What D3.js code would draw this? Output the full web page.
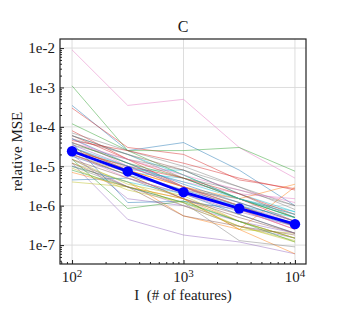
<!DOCTYPE html>
<meta charset="utf-8">
<style>
body { margin: 0; background: #fff; }
text { font-family: "Liberation Serif", "DejaVu Serif", serif; fill: #1a1a1a; }
.grid line { stroke: #d9d9d9; stroke-width: 0.9; }
.runs path { fill: none; stroke-width: 0.8; stroke-opacity: 0.6; }
</style>
<body>
<svg width="344" height="331"></svg>
<script src="https://d3js.org/d3.v7.min.js"></script>
<script>

// number of features
var features = [100, 316, 1000, 3162, 10000];

// average relative MSE (thick blue line)
var meanMSE = [2.4e-5, 7.4e-6, 2.2e-6, 8.5e-7, 3.4e-7];

// individual runs, one row per run
var runMSE = [
  [3.5e-4, 2.5e-5, 4e-5, 8e-6, 1e-6],
  [2e-5, 6e-6, 1.5e-6, 4e-7, 1.5e-7],
  [1.1e-3, 2.5e-5, 6e-6, 1.5e-6, 5e-7],
  [3e-4, 3e-5, 2e-5, 4.5e-6, 2.7e-6],
  [1.2e-5, 4.5e-7, 1.8e-7, 1.2e-7, 6e-8],
  [4e-5, 1.2e-5, 3e-6, 1.2e-6, 4e-7],
  [9e-3, 3.5e-4, 5e-4, 3e-5, 5e-6],
  [5e-5, 2e-5, 5e-6, 2.5e-6, 1e-6],
  [2.5e-5, 1e-5, 3e-6, 1e-6, 3e-7],
  [3e-5, 8e-6, 8e-6, 2e-6, 7e-7],
  [4.5e-6, 5e-6, 2e-6, 6e-7, 2e-7],
  [1e-5, 4e-6, 5.5e-7, 2.5e-7, 6e-8],
  [1.2e-4, 2.5e-5, 2.5e-5, 3e-5, 7.5e-6],
  [6e-5, 1.5e-5, 3e-6, 8e-7, 2.5e-7],
  [2e-5, 1.5e-6, 1e-6, 3e-7, 1.5e-7],
  [1.5e-5, 5e-6, 1.5e-6, 5e-7, 2e-7],
  [3e-5, 9e-6, 4e-6, 2e-6, 1.5e-6],
  [1e-5, 3e-6, 1.2e-6, 1.3e-7, 9e-8],
  [4e-6, 3e-6, 1.5e-6, 2.5e-7, 2e-7],
  [6e-5, 2e-5, 6e-6, 1.5e-6, 5e-7],
  [4e-5, 1.2e-6, 1.3e-6, 8e-7, 3e-7],
  [7e-6, 3e-6, 1.5e-6, 2.5e-7, 3e-6],
  [1.5e-5, 8.5e-7, 1.3e-6, 4e-7, 1.5e-7],
  [8e-5, 1.5e-5, 5e-6, 1.5e-6, 4e-7],
  [3e-5, 8e-6, 2e-6, 7e-7, 3e-7],
  [2e-5, 6e-6, 1.5e-6, 6e-7, 2e-7],
  [5e-5, 1e-5, 3e-6, 1e-6, 4e-7],
  [3.5e-5, 1.5e-5, 8e-6, 3e-6, 1e-6],
  [1.2e-5, 4e-6, 1e-6, 3e-7, 1.3e-7],
  [2.5e-5, 7e-6, 5e-6, 1.5e-6, 7e-7],
  [1.8e-5, 6e-6, 2.5e-6, 1e-6, 3.5e-7],
  [3e-5, 8e-6, 3e-6, 1.5e-6, 3.5e-6],
  [4e-5, 1.2e-5, 5e-6, 1.5e-6, 5e-7],
  [2.5e-5, 1e-5, 5e-6, 2e-6, 6e-7],
  [1.5e-5, 3e-6, 1e-6, 4e-7, 2e-7],
  [6e-5, 2e-5, 8e-6, 2e-6, 5e-7],
  [2e-5, 5e-6, 2e-6, 8e-7, 2.5e-7],
  [7e-5, 2.5e-5, 1e-5, 3e-6, 8e-7],
  [1.5e-5, 3.5e-6, 1.8e-6, 4e-7, 1.5e-7],
  [1e-5, 4e-6, 2e-6, 1e-6, 5e-7],
  [5e-5, 1.2e-5, 3.5e-6, 1.2e-6, 4e-7],
  [2.5e-5, 8e-6, 3e-6, 1e-6, 3e-7],
  [8e-6, 3e-6, 1.2e-6, 4e-7, 1.2e-7],
  [4.5e-5, 2.5e-5, 1.2e-5, 5e-6, 2.5e-6],
  [3.5e-5, 1e-5, 3e-6, 1e-6, 3e-7],
  [1.2e-5, 3e-6, 5.5e-7, 3e-7, 1.8e-7],
  [4e-5, 1.5e-5, 6e-6, 2.5e-6, 1.2e-6],
  [2e-5, 7e-6, 2.5e-6, 1.5e-6, 6e-7],
  [9e-6, 2.5e-6, 1.2e-6, 3e-7, 1.2e-7],
  [3e-5, 1e-5, 4e-6, 1.5e-6, 6e-7]
];

var yTickLabels = ["1e-7", "1e-6", "1e-5", "1e-4", "1e-3", "1e-2"];
var xTickExps = [2, 3, 4];

var svg = d3.select("svg"),
    pL = 60, pR = 306, pT = 39, pB = 264;

var x = d3.scaleLog().domain([Math.pow(10, 1.892), Math.pow(10, 4.099)]).range([pL, pR]);
var y = d3.scaleLog().domain([Math.pow(10, -7.48), Math.pow(10, -1.77)]).range([pB, pT]);

var color = d3.scaleOrdinal(d3.schemeCategory10);

var yMajor = yTickLabels.map(function(d) { return +d; });
var yMinor = [];
for (var e = -8; e <= -2; e++)
  for (var k = 2; k <= 9; k++) {
    var v = k * Math.pow(10, e);
    if (y(v) >= pT && y(v) <= pB) yMinor.push(v);
  }
var xMajor = xTickExps.map(function(p) { return Math.pow(10, p); });
var xMinor = [];
for (var p = 1; p <= 4; p++)
  for (var k = 2; k <= 9; k++) {
    var v = k * Math.pow(10, p);
    if (x(v) >= pL && x(v) <= pR) xMinor.push(v);
  }

// grid
var grid = svg.append("g").attr("class", "grid");
grid.selectAll(".gy").data(yMajor).enter().append("line")
    .attr("x1", pL).attr("x2", pR)
    .attr("y1", function(d) { return y(d); }).attr("y2", function(d) { return y(d); });
grid.selectAll(".gx").data(xMajor).enter().append("line")
    .attr("y1", pT).attr("y2", pB)
    .attr("x1", function(d) { return x(d); }).attr("x2", function(d) { return x(d); });

var line = d3.line()
    .x(function(d, i) { return x(features[i]); })
    .y(function(d) { return y(d); });

svg.append("g").attr("class", "runs")
  .selectAll("path")
  .data(runMSE)
  .enter().append("path")
    .attr("d", line)
    .attr("stroke", function(d, i) { return color(i % 10); });

svg.append("path")
    .datum(meanMSE)
    .attr("d", line)
    .attr("fill", "none")
    .attr("stroke", "#0000ff")
    .attr("stroke-width", 2.8);

svg.selectAll(".dot")
    .data(meanMSE)
  .enter().append("circle")
    .attr("cx", function(d, i) { return x(features[i]); })
    .attr("cy", function(d) { return y(d); })
    .attr("r", 5.2)
    .attr("fill", "#0000ff");

// axes (ticks pointing inward)
var yAxis = svg.append("g").attr("transform", "translate(" + pL + ",0)");
yAxis.call(d3.axisRight(y).tickValues(yMajor).tickSize(4).tickFormat(""));
yAxis.append("g").call(d3.axisRight(y).tickValues(yMinor).tickSize(2).tickFormat(""));
yAxis.selectAll(".domain").remove();
yAxis.selectAll("line").attr("stroke", "#222");

var xAxis = svg.append("g").attr("transform", "translate(0," + pB + ")");
xAxis.call(d3.axisTop(x).tickValues(xMajor).tickSize(4).tickFormat(""));
xAxis.append("g").call(d3.axisTop(x).tickValues(xMinor).tickSize(2).tickFormat(""));
xAxis.selectAll(".domain").remove();
xAxis.selectAll("line").attr("stroke", "#222");

svg.append("rect")
    .attr("x", pL).attr("y", pT)
    .attr("width", pR - pL).attr("height", pB - pT)
    .attr("fill", "none").attr("stroke", "#222").attr("stroke-width", 1.2);

// tick labels
svg.selectAll(".ylab").data(yTickLabels).enter().append("text")
    .attr("x", pL - 5)
    .attr("y", function(d) { return y(+d); })
    .attr("dy", "0.35em")
    .attr("text-anchor", "end")
    .style("font-size", "15px")
    .text(function(d) { return d; });

var xl = svg.selectAll(".xlab").data(xTickExps).enter().append("text")
    .attr("x", function(d) { return x(Math.pow(10, d)); })
    .attr("y", 282)
    .attr("text-anchor", "middle")
    .style("font-size", "15px");
xl.append("tspan").text("10");
xl.append("tspan").attr("dy", -5).style("font-size", "11px").text(function(d) { return d; });

svg.append("text")
    .attr("x", (pL + pR) / 2).attr("y", 32)
    .attr("text-anchor", "middle")
    .style("font-size", "16px")
    .text("C");

svg.append("text")
    .attr("x", (pL + pR) / 2).attr("y", 300)
    .attr("text-anchor", "middle")
    .style("font-size", "15px")
    .style("white-space", "pre")
    .text("I  (# of features)");

svg.append("text")
    .attr("transform", "translate(22," + (pT + pB) / 2 + ") rotate(-90)")
    .attr("text-anchor", "middle")
    .style("font-size", "15px")
    .text("relative MSE");

</script>
</body>
